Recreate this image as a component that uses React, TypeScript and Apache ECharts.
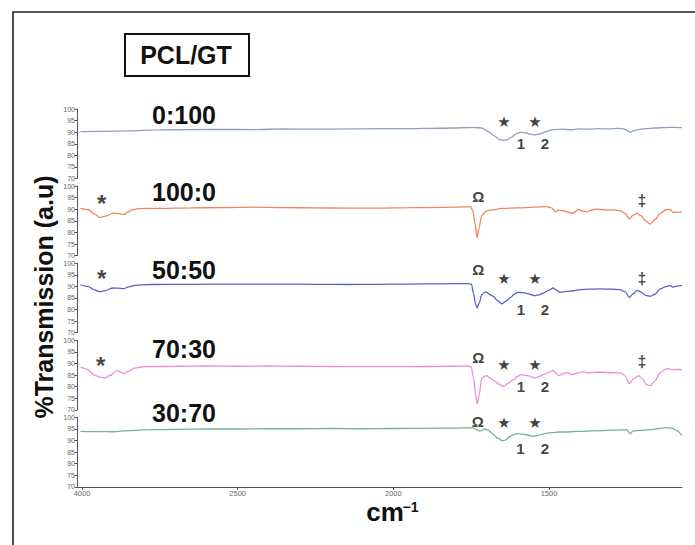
import React, { useEffect, useRef } from "react";
import * as echarts from "echarts";

// ---------- DATA ----------
const sampleLabels = ["0:100", "100:0", "50:50", "70:30", "30:70"];
const lineColors = ["#8fa0bc", "#f0845c", "#5a60c6", "#ec8ed6", "#6fb592"];

const xTickValues = [3000, 2500, 2000, 1500];
const xTickLabels = ["4000", "2500", "2000", "1500"];
const yTickMin = 70;
const yTickMax = 100;
const yTickStep = 5;
const xMin = 1073;
const xMax = 3016;

const wn0 = [3005, 2950, 2850, 2750, 2650, 2550, 2450, 2350, 2250, 2150, 2050, 1950, 1850, 1780, 1740, 1715, 1695, 1675, 1660, 1648, 1635, 1620, 1605, 1590, 1575, 1560, 1545, 1530, 1515, 1500, 1485, 1460, 1430, 1400, 1370, 1340, 1310, 1280, 1260, 1250, 1240, 1230, 1215, 1190, 1160, 1130, 1100, 1073];
const tr0 = [90.2, 90.3, 90.6, 91.0, 91.1, 91.2, 91.1, 91.4, 91.3, 91.4, 91.5, 91.5, 91.7, 91.9, 92.0, 91.8, 90.2, 88.3, 87.0, 86.5, 86.7, 87.9, 89.4, 90.0, 89.7, 89.1, 88.8, 89.2, 90.0, 90.7, 91.1, 91.3, 91.0, 91.4, 91.3, 91.5, 91.4, 91.6, 91.4, 90.8, 90.0, 90.5, 91.1, 91.5, 91.8, 92.0, 92.1, 92.0];

const wn1 = [3005, 2980, 2960, 2943, 2925, 2901, 2885, 2875, 2866, 2855, 2840, 2820, 2750, 2650, 2550, 2450, 2350, 2250, 2150, 2050, 1950, 1850, 1770, 1752, 1745, 1738, 1731, 1725, 1716, 1700, 1690, 1650, 1600, 1550, 1507, 1490, 1481, 1470, 1455, 1435, 1423, 1407, 1390, 1379, 1360, 1347, 1330, 1315, 1290, 1272, 1255, 1242, 1230, 1218, 1205, 1190, 1175, 1160, 1143, 1125, 1111, 1102, 1090, 1073];
const tr1 = [90.4, 89.8, 88.0, 86.5, 87.0, 88.3, 88.2, 87.9, 87.7, 88.6, 89.7, 90.3, 90.4, 90.6, 90.7, 90.9, 90.7, 90.6, 90.5, 90.5, 90.7, 90.8, 91.0, 91.1, 89.5, 84.0, 77.8, 82.0, 87.5, 89.3, 89.6, 90.4, 90.6, 90.9, 91.1, 90.5, 88.9, 89.6, 89.4, 88.6, 88.2, 89.9, 89.2, 88.9, 89.8, 90.2, 89.8, 89.6, 89.7, 89.4, 88.2, 85.8, 87.5, 88.2, 87.3, 85.0, 83.6, 85.5, 88.2, 89.8, 89.9, 88.6, 88.8, 88.9];

const wn2 = [3005, 2980, 2960, 2943, 2925, 2901, 2885, 2866, 2850, 2831, 2780, 2650, 2500, 2350, 2250, 2150, 2050, 1950, 1850, 1760, 1749, 1743, 1736, 1731, 1724, 1716, 1705, 1700, 1690, 1679, 1665, 1652, 1640, 1625, 1612, 1600, 1585, 1572, 1560, 1545, 1530, 1518, 1500, 1487, 1478, 1465, 1455, 1443, 1423, 1400, 1370, 1336, 1300, 1272, 1255, 1242, 1230, 1218, 1205, 1190, 1175, 1160, 1143, 1125, 1111, 1102, 1090, 1073];
const tr2 = [90.7, 89.9, 88.5, 87.6, 88.2, 89.3, 89.2, 89.0, 89.8, 90.4, 90.8, 90.9, 91.0, 91.0, 90.9, 90.8, 90.9, 91.0, 91.1, 91.2, 91.0, 87.0, 82.5, 80.7, 83.0, 86.4, 87.6, 87.4, 86.5, 85.7, 83.8, 82.5, 83.4, 85.0, 86.6, 87.4, 87.3, 87.0, 86.5, 86.0, 86.4, 87.1, 88.4, 89.3, 88.6, 87.4, 87.6, 87.8, 88.1, 88.6, 88.8, 88.9, 88.8, 88.6, 87.6, 85.2, 86.8, 88.3, 87.6, 86.1, 85.7, 86.6, 88.9, 89.9, 90.3, 89.7, 90.1, 90.4];

const wn3 = [3005, 2985, 2960, 2940, 2927, 2910, 2886, 2876, 2866, 2850, 2831, 2800, 2700, 2600, 2500, 2400, 2300, 2200, 2100, 2000, 1900, 1800, 1760, 1750, 1743, 1736, 1731, 1725, 1716, 1706, 1700, 1688, 1674, 1660, 1647, 1630, 1615, 1600, 1588, 1572, 1561, 1545, 1530, 1518, 1500, 1487, 1478, 1470, 1455, 1443, 1430, 1423, 1410, 1390, 1370, 1350, 1336, 1300, 1272, 1258, 1242, 1228, 1213, 1200, 1188, 1175, 1160, 1143, 1125, 1117, 1102, 1090, 1073];
const tr3 = [88.5, 87.6, 85.0, 84.0, 83.7, 84.8, 87.0, 86.3, 85.6, 86.8, 88.0, 88.6, 88.8, 88.9, 88.8, 88.9, 88.8, 88.7, 88.6, 88.6, 88.7, 88.8, 88.9, 88.6, 84.0, 77.0, 72.6, 76.0, 83.7, 84.5, 84.7, 83.6, 82.3, 81.0, 80.1, 81.5, 83.0, 84.5, 85.2, 84.8, 84.5, 83.7, 84.5, 85.2, 86.3, 87.0, 85.8, 84.7, 85.6, 86.0, 85.5, 85.3, 85.8, 86.4, 85.9, 86.2, 86.2, 86.0, 85.9, 85.0, 81.3, 83.5, 84.7, 83.5, 81.0, 80.4, 82.5, 86.0, 87.6, 87.8, 87.2, 87.4, 87.3];

const wn4 = [3005, 2950, 2900, 2850, 2783, 2700, 2600, 2500, 2400, 2300, 2200, 2100, 2000, 1900, 1800, 1760, 1743, 1735, 1722, 1712, 1706, 1695, 1680, 1665, 1650, 1640, 1625, 1610, 1600, 1585, 1570, 1551, 1535, 1520, 1507, 1490, 1470, 1443, 1420, 1390, 1336, 1300, 1265, 1250, 1240, 1230, 1210, 1175, 1150, 1122, 1105, 1090, 1073];
const tr4 = [94.0, 93.9, 93.8, 94.3, 94.7, 94.8, 95.0, 95.0, 95.1, 95.1, 95.2, 95.1, 95.2, 95.3, 95.4, 95.5, 95.5, 94.8, 94.1, 94.6, 95.0, 94.4, 92.8, 91.0, 89.9, 90.2, 91.8, 92.7, 93.0, 92.8, 92.4, 91.8, 92.2, 92.8, 93.2, 93.4, 93.7, 93.7, 93.9, 94.0, 94.3, 94.5, 94.6, 94.7, 93.0, 94.1, 94.4, 94.7, 95.2, 95.6, 95.4, 94.3, 92.2];

const wavenumbers = [wn0, wn1, wn2, wn3, wn4];
const transmissions = [tr0, tr1, tr2, tr3, tr4];

// annotation marks: [text, wavenumber, transmission]
const notes0 = [["★", 1645, 94.5], ["★", 1545, 94.5], ["1", 1590, 84.9], ["2", 1513, 84.9]];
const notes1 = [["*", 2937, 92.7], ["Ω", 1727, 95.4], ["‡", 1202, 93.7]];
const notes2 = [["*", 2937, 93.4], ["Ω", 1727, 97.2], ["★", 1645, 93.2], ["★", 1545, 93.2], ["1", 1590, 80.2], ["2", 1513, 80.2], ["‡", 1202, 93.2]];
const notes3 = [["*", 2940, 89.3], ["Ω", 1727, 92.4], ["★", 1645, 89.5], ["★", 1545, 89.5], ["1", 1590, 80.1], ["2", 1513, 80.1], ["‡", 1202, 90.9]];
const notes4 = [["Ω", 1729, 98.1], ["★", 1645, 97.4], ["★", 1545, 97.4], ["1", 1592, 86.6], ["2", 1513, 86.6]];
const notesAll = [notes0, notes1, notes2, notes3, notes4];

// ---------- LAYOUT ----------
const FONT = "'Liberation Sans', Arial, sans-serif";
const gridLeft = 77;
const gridRight = 13;
const gridTop0 = 109;
const gridPitch = 77.1;
const gridHeight = 69.5;
const labelY = [115, 192, 270, 349, 413];

const noteFont: Record<string, number> = { "★": 15, "1": 15, "2": 15, "Ω": 15, "‡": 16, "*": 24 };

function buildOption() {
  const grids: any[] = [];
  const xAxes: any[] = [];
  const yAxes: any[] = [];
  const series: any[] = [];
  for (let i = 0; i < 5; i++) {
    grids.push({ left: gridLeft, right: gridRight, top: gridTop0 + i * gridPitch, height: gridHeight });
    const last = i === 4;
    xAxes.push({
      type: "value",
      gridIndex: i,
      min: xMin,
      max: xMax,
      inverse: true,
      show: last,
      splitLine: { show: false },
      axisLine: { show: last, onZero: false, lineStyle: { color: "#555", width: 1 } },
      axisTick: { show: last, length: 3, customValues: xTickValues, lineStyle: { color: "#555" } },
      axisLabel: {
        show: last,
        customValues: xTickValues,
        fontSize: 7.5,
        color: "#666",
        fontFamily: FONT,
        margin: 3,
        formatter: (v: number) => {
          const k = xTickValues.indexOf(v);
          return k >= 0 ? xTickLabels[k] : String(v);
        },
      },
    });
    yAxes.push({
      type: "value",
      gridIndex: i,
      min: yTickMin,
      max: yTickMax,
      interval: yTickStep,
      splitLine: { show: false },
      axisLine: { show: true, lineStyle: { color: "#555", width: 1 } },
      axisTick: { show: true, length: 2.5, lineStyle: { color: "#555" } },
      axisLabel: { fontSize: 7, color: "#666", fontFamily: FONT, margin: 2 },
    });
    const wn = wavenumbers[i];
    const tr = transmissions[i];
    series.push({
      type: "line",
      xAxisIndex: i,
      yAxisIndex: i,
      showSymbol: false,
      smooth: 0.3,
      smoothMonotone: "x",
      lineStyle: { color: lineColors[i], width: 1.3 },
      itemStyle: { color: lineColors[i] },
      data: wn.map((w, j) => [w, tr[j]]),
      silent: true,
    });
    series.push({
      type: "scatter",
      xAxisIndex: i,
      yAxisIndex: i,
      symbolSize: 1,
      itemStyle: { color: "rgba(0,0,0,0)" },
      silent: true,
      z: 5,
      data: notesAll[i].map((n) => ({
        name: n[0],
        value: [n[1], n[2]],
        label: {
          show: true,
          position: "inside",
          formatter: "{b}",
          color: "#111",
          fontWeight: "bold",
          fontFamily: n[0] === "★" ? "'DejaVu Sans', sans-serif" : FONT,
          fontSize: noteFont[n[0] as string],
        },
      })),
    });
  }

  const graphic: any[] = [
    { type: "rect", shape: { x: 13, y: 12, width: 800, height: 700 }, style: { fill: "none", stroke: "#222", lineWidth: 1.6 }, z: 10 },
    { type: "rect", shape: { x: 125, y: 34, width: 124, height: 42 }, style: { fill: "#fff", stroke: "#111", lineWidth: 2 }, z: 10 },
    { type: "text", x: 186, y: 55, style: { text: "PCL/GT", font: `bold 25px ${FONT}`, fill: "#111", textAlign: "center", textVerticalAlign: "middle" }, z: 11 },
    { type: "text", x: 44, y: 297, rotation: Math.PI / 2, style: { text: "%Transmission (a.u)", font: `bold 25px ${FONT}`, fill: "#111", textAlign: "center", textVerticalAlign: "middle" }, z: 11 },
    { type: "text", x: 385, y: 512, style: { text: "cm", font: `bold 26px ${FONT}`, fill: "#111", textAlign: "center", textVerticalAlign: "middle" }, z: 11 },
    { type: "text", x: 410.5, y: 507, style: { text: "−1", font: `bold 14px ${FONT}`, fill: "#111", textAlign: "center", textVerticalAlign: "middle" }, z: 11 },
  ];
  sampleLabels.forEach((s, i) => {
    graphic.push({ type: "text", x: 184, y: labelY[i], style: { text: s, font: `bold 25px ${FONT}`, fill: "#111", textAlign: "center", textVerticalAlign: "middle" }, z: 11 });
  });

  return {
    animation: false,
    backgroundColor: "#fff",
    grid: grids,
    xAxis: xAxes,
    yAxis: yAxes,
    series,
    graphic,
  };
}

export default function App() {
  const ref = useRef<HTMLDivElement>(null);
  useEffect(() => {
    if (!ref.current) return;
    const chart = echarts.init(ref.current, undefined, { renderer: "svg" });
    chart.setOption(buildOption() as any);
    return () => chart.dispose();
  }, []);
  return <div ref={ref} style={{ position: "fixed", left: 0, top: 0, width: 695, height: 545, background: "#fff" }} />;
}
